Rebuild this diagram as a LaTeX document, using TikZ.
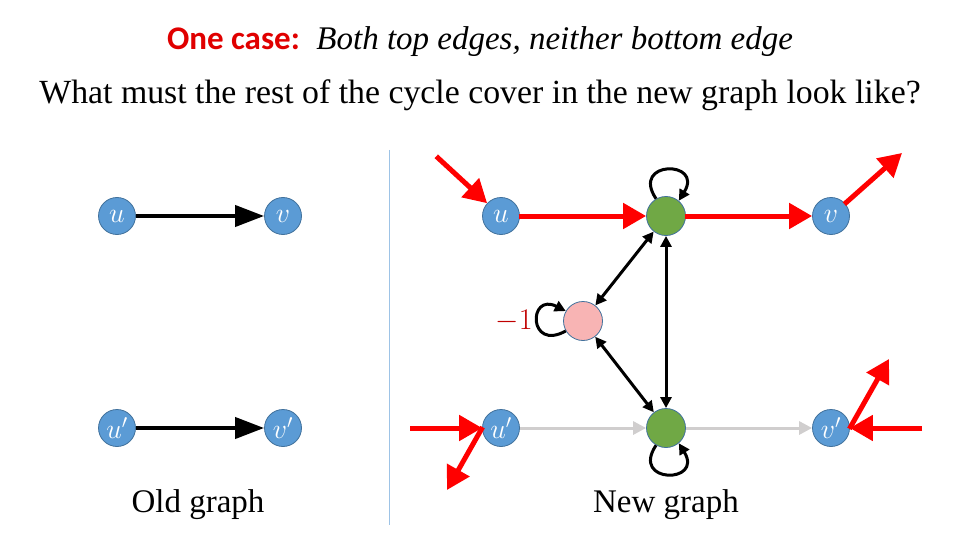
\documentclass[tikz,border=0pt]{standalone}
\usepackage{fix-cm}
\usepackage{fontspec}
\setmainfont{Liberation Serif}
\newfontfamily\calib{Carlito}
\usetikzlibrary{arrows.meta}
\definecolor{nblue}{HTML}{5B9BD5}
\definecolor{nborder}{HTML}{41719C}
\definecolor{ngreen}{HTML}{70A845}
\definecolor{npink}{HTML}{F8B4B4}
\definecolor{ared}{HTML}{FF0000}
\definecolor{tred}{HTML}{E00000}
\definecolor{lred}{HTML}{C00000}
\definecolor{agray}{HTML}{D0CECE}
\definecolor{divider}{HTML}{9DC3E6}
\tikzset{
  vert/.style={circle, fill=nblue, draw=nborder, line width=0.8pt, minimum size=37pt, inner sep=0pt, text=white, font=\fontsize{28}{28}\selectfont},
  gvert/.style={circle, fill=ngreen, draw=nborder, line width=0.8pt, minimum size=39pt, inner sep=0pt},
  pvert/.style={circle, fill=npink, draw=nborder, line width=0.8pt, minimum size=39pt, inner sep=0pt},
  oldarr/.style={line width=4pt, -{Triangle[length=29pt,width=21pt]}},
  redarr/.style={draw=ared, line width=5pt, -{Triangle[length=23pt,width=25pt]}, shorten <=-1pt},
  grayarr/.style={draw=agray, line width=3pt, -{Triangle[length=13pt,width=13pt]}},
  dblarr/.style={line width=3pt, {Triangle[length=11pt,width=11pt]}-{Triangle[length=11pt,width=11pt]}},
  looparr/.style={line width=3pt, -{Triangle[length=11pt,width=11pt]}},
  bigtext/.style={font=\fontsize{33}{38}\selectfont}
}
\begin{document}
\begin{tikzpicture}[x=1pt,y=-1pt]
\useasboundingbox (0,0) rectangle (960,540);
% titles
\node[bigtext, anchor=center] (title) at (480,42) {{\calib\bfseries\color{tred}One case:}\ \ \textit{Both top edges, neither bottom edge}};
\node[font=\fontsize{33.8}{38}\selectfont, anchor=center] (question) at (480,95) {What must the rest of the cycle cover in the new graph look like?};
% divider
\draw[divider, line width=1pt] (389,150) coordinate (d1) -- (389,525) coordinate (d2);
% old graph
\node[vert] (ou) at (117,216) {$u$};
\node[vert] (ov) at (283,216) {$v$};
\node[vert] (ou2) at (117,428) {$u'$};
\node[vert] (ov2) at (283,428) {$v'$};
\draw[oldarr] (ou) -- (ov);
\draw[oldarr] (ou2) -- (ov2);
\node[bigtext] (oldlbl) at (198,505) {Old graph};
% new graph
\node[vert] (u) at (501,216) {$u$};
\node[gvert] (g1) at (666,216) {};
\node[vert] (v) at (831,216) {$v$};
\node[pvert] (p) at (583,321) {};
\node[vert] (u2) at (501,428) {$u'$};
\node[gvert] (g2) at (666,428) {};
\node[vert] (v2) at (831,428) {$v'$};
\node[bigtext] (newlbl) at (666,505) {New graph};
\node[font=\fontsize{30}{30}\selectfont, text=lred] (m1) at (514,321) {$-1$};
% gray edges
\draw[grayarr] (u2) -- (g2);
\draw[grayarr] (g2) -- (v2);
% black double arrows
\draw[dblarr] (g1) -- (p);
\draw[dblarr] (p) -- (g2);
\draw[dblarr] (g1) -- (g2);
% self loops
\draw[looparr] (g1.120) .. controls (630,160) and (704,160) .. (g1.50);
\draw[looparr] (g2.-120) .. controls (630,484) and (704,484) .. (g2.-50);
\draw[looparr] (p.210) .. controls (528,352) and (528,292) .. (p.150);
% red edges
\coordinate (a1) at (437,157);
\coordinate (a2) at (902,153);
\coordinate (a3) at (411,428);
\coordinate (a4) at (447,490);
\coordinate (a5) at (889,359);
\coordinate (a6) at (921,428);
\draw[redarr] (a1) -- (u);
\draw[redarr] (u) -- (g1);
\draw[redarr] (g1) -- (v);
\draw[redarr] (v) -- (a2);
\draw[redarr] (a3) -- (u2.west);
\draw[redarr] (u2.west) -- (a4);
\draw[redarr] (v2.east) -- (a5);
\draw[redarr] (a6) -- (v2.east);
\end{tikzpicture}
\end{document}
